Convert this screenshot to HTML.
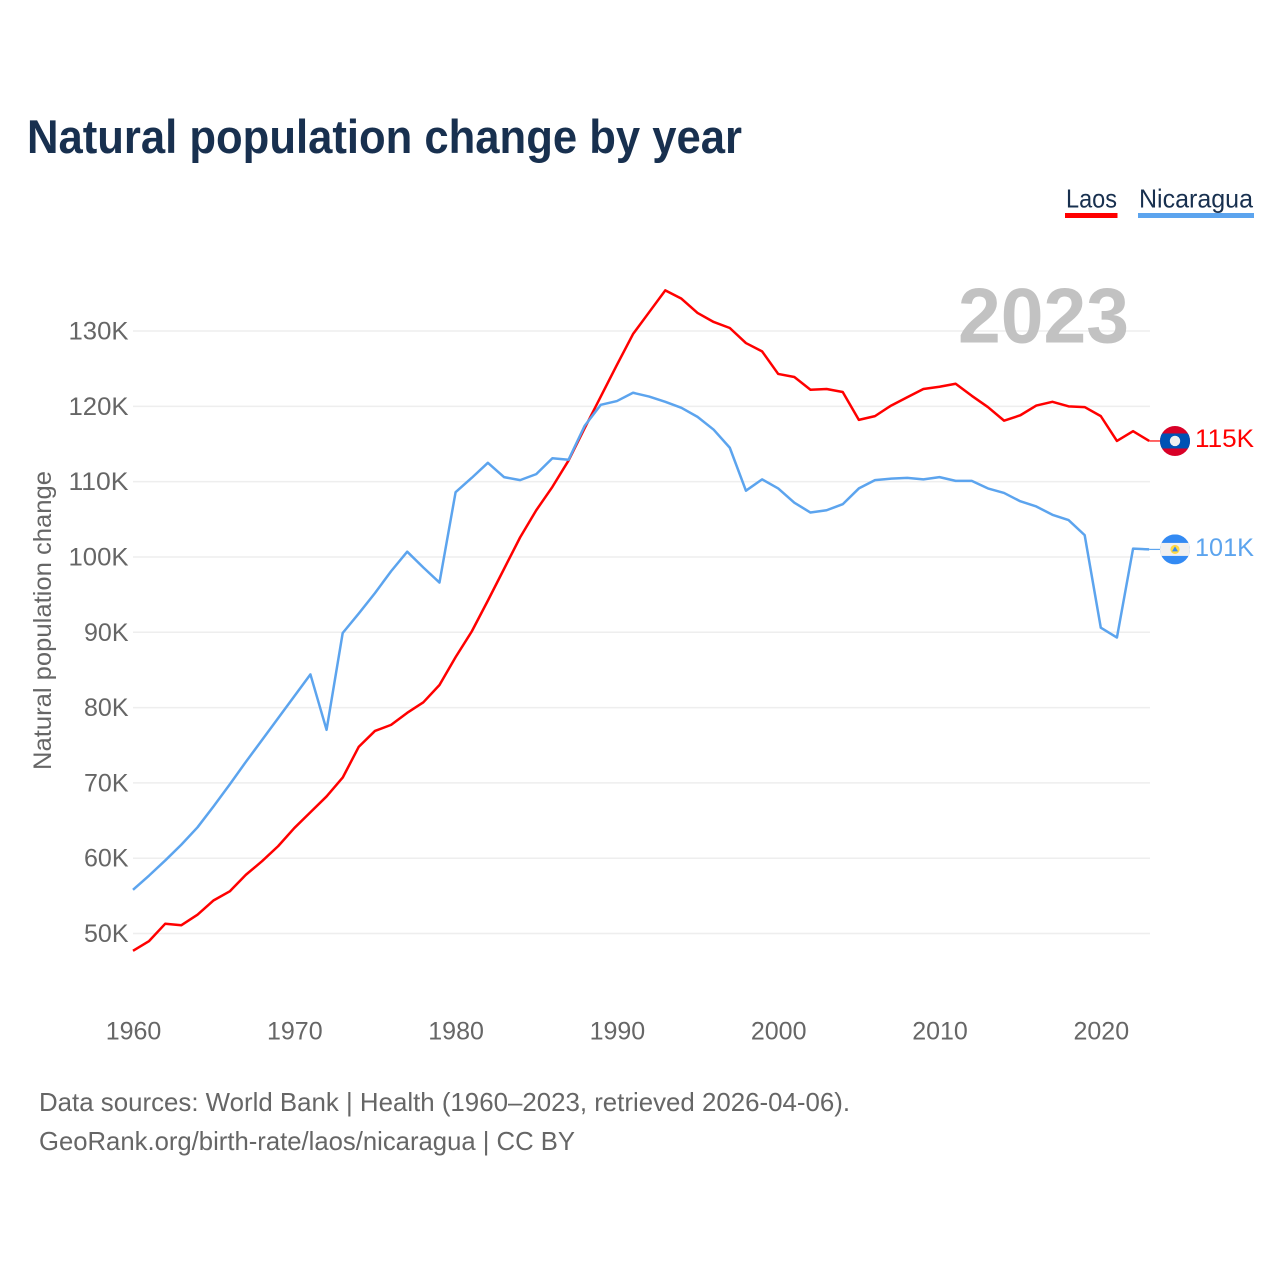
<!DOCTYPE html>
<html lang="en">
<head>
<meta charset="utf-8">
<title>Natural population change by year</title>
<style>
html,body{margin:0;padding:0;background:#fff;}
svg{display:block;font-family:"Liberation Sans",sans-serif;}
</style>
</head>
<body>
<svg id="chart" xmlns="http://www.w3.org/2000/svg" width="1280" height="1280" viewBox="0 0 1280 1280">
  <rect x="0" y="0" width="1280" height="1280" fill="#ffffff"/>
  <text x="27" y="153" font-size="47" font-weight="700" fill="#18304f" textLength="715" lengthAdjust="spacingAndGlyphs">Natural population change by year</text>

  <g>
    <text x="1066" y="207.500" font-size="26" fill="#18304f" textLength="51" lengthAdjust="spacingAndGlyphs">Laos</text>
    <rect x="1065" y="213" width="52.500" height="5" fill="#ff0000"/>
  </g>
  <g>
    <text x="1139" y="207.500" font-size="26" fill="#18304f" textLength="114" lengthAdjust="spacingAndGlyphs">Nicaragua</text>
    <rect x="1138" y="213" width="116" height="5" fill="#5ca4ee"/>
  </g>

  <g id="grid"></g>
  <text x="1129" y="342.500" text-anchor="end" font-size="78" font-weight="700" fill="#c2c2c2" textLength="171" lengthAdjust="spacingAndGlyphs">2023</text>
  <g id="yticks"></g>
  <g id="xticks"></g>
  <text transform="translate(51,770) rotate(-90)" font-size="25" fill="#666666" textLength="299" lengthAdjust="spacingAndGlyphs">Natural population change</text>
  <g id="series"></g>
  <g id="end-markers"></g>

  <text x="39" y="1111" font-size="26" fill="#666666" textLength="811" lengthAdjust="spacingAndGlyphs">Data sources: World Bank | Health (1960–2023, retrieved 2026-04-06).</text>
  <text x="39" y="1150" font-size="26" fill="#666666" textLength="536" lengthAdjust="spacingAndGlyphs">GeoRank.org/birth-rate/laos/nicaragua | CC BY</text>
</svg>
<script>
const startYear = 1960;
const laosValues = [47.7,49.0,51.3,51.1,52.5,54.4,55.6,57.8,59.6,61.6,64.0,66.1,68.2,70.7,74.8,76.9,77.7,79.3,80.7,83.0,86.7,90.1,94.2,98.4,102.6,106.2,109.3,112.8,117.1,121.3,125.5,129.6,132.5,135.4,134.3,132.4,131.2,130.4,128.4,127.3,124.3,123.9,122.2,122.3,121.9,118.2,118.7,120.1,121.2,122.3,122.6,123.0,121.4,119.9,118.1,118.8,120.1,120.6,120.0,119.9,118.7,115.4,116.7,115.4];
const nicaraguaValues = [55.8,57.7,59.7,61.8,64.1,66.9,69.8,72.8,75.7,78.6,81.5,84.4,77.05,89.9,92.5,95.2,98.1,100.7,98.6,96.6,108.6,110.5,112.5,110.6,110.2,111.0,113.1,112.9,117.4,120.2,120.7,121.8,121.3,120.6,119.8,118.6,116.9,114.5,108.8,110.3,109.1,107.2,105.9,106.2,107.0,109.1,110.2,110.4,110.5,110.3,110.6,110.1,110.1,109.1,108.5,107.4,106.7,105.6,104.9,102.9,90.6,89.3,101.1,101.0];
const yTickValues = [50,60,70,80,90,100,110,120,130];
const xTickYears = [1960,1970,1980,1990,2000,2010,2020];

const NS = 'http://www.w3.org/2000/svg';
function xScale(year){ return 133 + (year - 1960) * 16.13; }
function yScale(v){ return 933.5 - (v - 50) * 7.531; }
function make(tag, attrs, parent, text){
  const el = document.createElementNS(NS, tag);
  for (const k in attrs) el.setAttribute(k, attrs[k]);
  if (text !== undefined) el.textContent = text;
  parent.appendChild(el);
  return el;
}

const grid = document.getElementById('grid');
const yticks = document.getElementById('yticks');
const xticks = document.getElementById('xticks');
const seriesG = document.getElementById('series');
const markers = document.getElementById('end-markers');
const endX = xScale(startYear + laosValues.length - 1);

yTickValues.forEach(function(v){
  const line = make('line', {x1:133, x2:1150, y1:yScale(v), y2:yScale(v), stroke:'#eeeeee', 'stroke-width':1.5}, grid);
  
  
  const labelText = v + 'K';
  const label = make('text', {x:128.5, y:yScale(v) + 8.5, 'text-anchor':'end', 'font-size':25, fill:'#666666', textLength:labelText.length > 3 ? 60 : 44.5, lengthAdjust:'spacingAndGlyphs'}, yticks, labelText);
  
  
});

xTickYears.forEach(function(y){
  const label = make('text', {x:xScale(y) + 0.5, y:1039.5, 'text-anchor':'middle', 'font-size':25, fill:'#666666'}, xticks, String(y));
  
  
});

function pathFor(values){
  return values.map(function(v, i){
    return (i ? 'L' : 'M') + xScale(startYear + i).toFixed(2) + ' ' + yScale(v).toFixed(2);
  }).join(' ');
}

const laosLine = make('path', {d:pathFor(laosValues), fill:'none', stroke:'#ff0000', 'stroke-width':2.5, 'stroke-linejoin':'round'}, seriesG);


const nicaraguaLine = make('path', {d:pathFor(nicaraguaValues), fill:'none', stroke:'#5ca4ee', 'stroke-width':2.5, 'stroke-linejoin':'round'}, seriesG);



const laosLast = laosValues[laosValues.length - 1];
const nicaraguaLast = nicaraguaValues[nicaraguaValues.length - 1];
const laosY = yScale(laosLast);
const nicaraguaY = yScale(nicaraguaLast);

const laosLeader = make('line', {x1:endX, x2:1160, y1:laosY, y2:laosY, stroke:'#ff0000', 'stroke-width':1.2}, markers);


const nicaraguaLeader = make('line', {x1:endX, x2:1160, y1:nicaraguaY, y2:nicaraguaY, stroke:'#5ca4ee', 'stroke-width':1.2}, markers);



const cx = 1175;
const clipL = make('clipPath', {id:'clip-laos'}, markers);
make('circle', {cx:cx, cy:laosY, r:15}, clipL);
const clipN = make('clipPath', {id:'clip-nicaragua'}, markers);
make('circle', {cx:cx, cy:nicaraguaY, r:15}, clipN);

const laosFlag = make('g', {'clip-path':'url(#clip-laos)'}, markers);


make('rect', {x:cx-15, y:laosY-15, width:30, height:30, fill:'#d80027'}, laosFlag);
make('rect', {x:cx-15, y:laosY-7.5, width:30, height:15, fill:'#0052b4'}, laosFlag);
make('circle', {cx:cx, cy:laosY, r:5.2, fill:'#f0f0f0'}, laosFlag);

const nicFlag = make('g', {'clip-path':'url(#clip-nicaragua)'}, markers);


make('rect', {x:cx-15, y:nicaraguaY-15, width:30, height:30, fill:'#338af3'}, nicFlag);
make('rect', {x:cx-15, y:nicaraguaY-6.5, width:30, height:13, fill:'#f0f0f0'}, nicFlag);
make('circle', {cx:cx, cy:nicaraguaY, r:4.6, fill:'#ffda44'}, nicFlag);
make('path', {d:'M'+cx+' '+(nicaraguaY-3)+' l3 5 h-6 z', fill:'#338af3'}, nicFlag);

const laosValueLabel = make('text', {x:1195, y:laosY + 6, 'font-size':25, fill:'#ff0000', textLength:59, lengthAdjust:'spacingAndGlyphs'}, markers, Math.round(laosLast) + 'K');


const nicValueLabel = make('text', {x:1195, y:nicaraguaY + 6.5, 'font-size':25, fill:'#5ca4ee', textLength:59, lengthAdjust:'spacingAndGlyphs'}, markers, Math.round(nicaraguaLast) + 'K');


</script>
</body>
</html>
